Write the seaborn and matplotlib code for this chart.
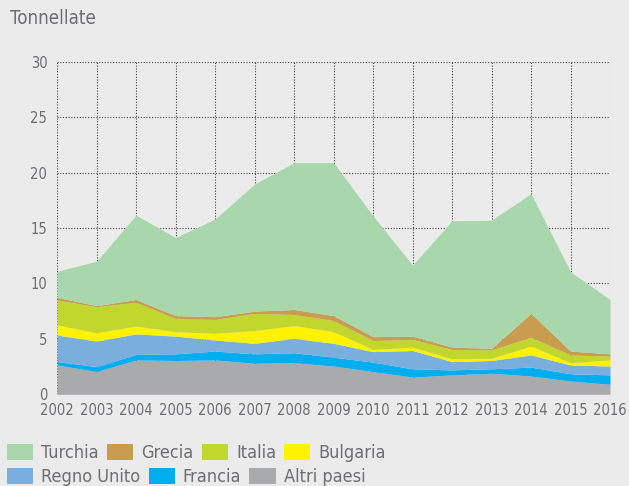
import matplotlib
matplotlib.use("Agg")
import matplotlib.pyplot as plt
import seaborn as sns
from matplotlib.patches import Patch

# data (tonnes, stacked bottom -> top)
years = list(range(2002, 2017))
altri = [2.65, 2.05, 3.1, 3.05, 3.1, 2.8, 2.85, 2.55, 2.05, 1.55, 1.75, 1.9, 1.65, 1.2, 0.9]
francia = [0.3, 0.45, 0.5, 0.6, 0.8, 0.85, 0.9, 0.8, 0.85, 0.75, 0.45, 0.4, 0.8, 0.65, 0.85]
regno_unito = [2.4, 2.3, 1.85, 1.6, 1.0, 0.95, 1.3, 1.25, 0.95, 1.65, 0.75, 0.75, 1.1, 0.8, 0.8]
bulgaria = [0.9, 0.75, 0.7, 0.4, 0.6, 1.15, 1.15, 1.05, 0.2, 0.3, 0.25, 0.2, 0.8, 0.2, 0.55]
italia = [2.25, 2.35, 2.15, 1.2, 1.25, 1.55, 1.0, 1.0, 0.8, 0.7, 0.85, 0.75, 0.8, 0.7, 0.35]
grecia = [0.25, 0.1, 0.25, 0.25, 0.25, 0.2, 0.45, 0.45, 0.35, 0.3, 0.2, 0.15, 2.15, 0.35, 0.2]
turchia = [2.35, 4.0, 7.6, 7.05, 8.8, 11.45, 13.25, 13.8, 10.9, 6.4, 11.4, 11.55, 10.8, 7.15, 4.9]

labels = ["Altri paesi", "Francia", "Regno Unito", "Bulgaria", "Italia", "Grecia", "Turchia"]
colors = ["#a9aaac", "#00aeef", "#7aafdd", "#fff200", "#c2d72e", "#c99d50", "#a8d7ab"]

bg = "#ebebeb"
grey = "#6d6e71"
sns.set_style("white", {"axes.facecolor": bg, "figure.facecolor": bg})
plt.rcParams["font.family"] = ["DejaVu Sans"]
plt.rcParams["font.stretch"] = "condensed"

fig = plt.figure(figsize=(6.29, 4.86), dpi=100)
ax = fig.add_axes([57 / 629, 1 - 394.3 / 486, 553 / 629, 332.6 / 486])

ax.stackplot(years, altri, francia, regno_unito, bulgaria, italia, grecia, turchia,
             colors=colors, linewidth=0)

ax.set_xlim(2002, 2016)
ax.set_ylim(0, 30)
ax.set_xticks(years)
ax.set_yticks(range(0, 31, 5))
ax.set_axisbelow(True)
ax.grid(True, linestyle=(0, (1, 1.5)), color="#444444", linewidth=0.8)
for s in ax.spines.values():
    s.set_visible(False)
ax.tick_params(axis="both", length=3, width=0.8, color="#444444",
               labelcolor=grey, labelsize=10.5, pad=4)
ax.tick_params(axis="x", direction="out", pad=3)

fig.text(10 / 629, 1 - 18 / 486, "Tonnellate", color=grey, fontsize=13.5, va="center")

handles = {lab: Patch(facecolor=c, edgecolor="none") for lab, c in zip(labels, colors)}
row1 = ["Turchia", "Grecia", "Italia", "Bulgaria"]
row2 = ["Regno Unito", "Francia", "Altri paesi"]
for row, ypx in [(row1, 453), (row2, 477)]:
    leg = fig.legend([handles[r] for r in row], row, loc="center left",
                     bbox_to_anchor=(7 / 629, 1 - ypx / 486), ncol=len(row),
                     frameon=False, fontsize=13, handlelength=1.45, handleheight=0.95,
                     handletextpad=0.45, columnspacing=0.45, borderpad=0, borderaxespad=0)
    for t in leg.get_texts():
        t.set_color(grey)

fig.savefig("out.png", dpi=100, facecolor=bg)
